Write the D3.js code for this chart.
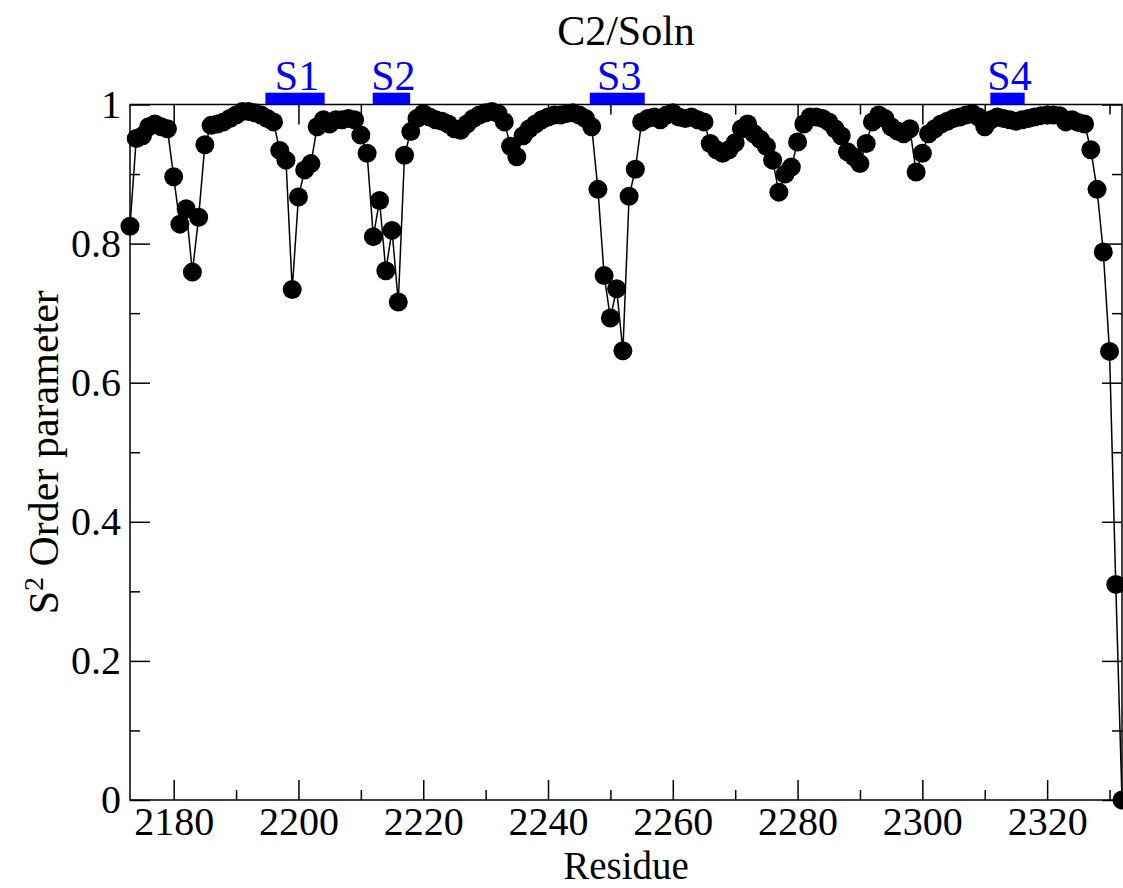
<!DOCTYPE html>
<html>
<head>
<meta charset="utf-8">
<script src="https://cdn.jsdelivr.net/npm/d3@7/dist/d3.min.js"></script>
<style>
  html, body { margin: 0; padding: 0; background: #fff; }
  svg { display: block; }
  text { font-family: "Liberation Serif", "Times New Roman", serif; }
</style>
</head>
<body>
<svg id="chart" width="1123" height="888"></svg>
<script>
// Residue numbers and S2 order parameters (C2 domain, solution)
const residueStart = 2173;
const orderParams = [
  0.825, 0.951, 0.955, 0.968, 0.972, 0.968, 0.965, 0.896, 0.828, 0.850, // 2173-2182
  0.759, 0.838, 0.942, 0.970, 0.972, 0.975, 0.980, 0.985, 0.990, 0.990, // 2183-2192
  0.988, 0.985, 0.980, 0.975, 0.934, 0.920, 0.734, 0.867, 0.906, 0.915, // 2193-2202
  0.968, 0.978, 0.972, 0.978, 0.978, 0.980, 0.978, 0.956, 0.930, 0.810, // 2203-2212
  0.862, 0.761, 0.819, 0.716, 0.927, 0.961, 0.980, 0.987, 0.982, 0.978, // 2213-2222
  0.976, 0.972, 0.965, 0.963, 0.972, 0.980, 0.985, 0.988, 0.990, 0.987, // 2223-2232
  0.975, 0.940, 0.925, 0.955, 0.965, 0.972, 0.978, 0.982, 0.985, 0.985, // 2233-2242
  0.987, 0.988, 0.985, 0.980, 0.968, 0.878, 0.754, 0.693, 0.735, 0.646, // 2243-2252
  0.868, 0.907, 0.975, 0.980, 0.982, 0.978, 0.985, 0.988, 0.982, 0.980, // 2253-2262
  0.982, 0.978, 0.975, 0.944, 0.935, 0.930, 0.935, 0.945, 0.965, 0.972, // 2263-2272
  0.958, 0.950, 0.940, 0.920, 0.874, 0.900, 0.910, 0.946, 0.972, 0.982, // 2273-2282
  0.982, 0.980, 0.975, 0.965, 0.955, 0.932, 0.925, 0.915, 0.944, 0.975, // 2283-2292
  0.985, 0.980, 0.968, 0.962, 0.958, 0.965, 0.903, 0.930, 0.958, 0.965, // 2293-2302
  0.972, 0.976, 0.980, 0.982, 0.985, 0.987, 0.982, 0.968, 0.978, 0.982, // 2303-2312
  0.980, 0.978, 0.976, 0.978, 0.980, 0.982, 0.984, 0.985, 0.985, 0.984, // 2313-2322
  0.975, 0.978, 0.974, 0.972, 0.935, 0.878, 0.788, 0.645, 0.310, 0.000  // 2323-2332
];
const residues = orderParams.map((_, i) => residueStart + i);

// Strand markers along the top edge
const strandNames = ["S1", "S2", "S3", "S4"];
const strandStart = [2194.7, 2211.9, 2246.7, 2310.9];
const strandEnd   = [2204.2, 2217.9, 2255.5, 2316.4];

// Axis ticks
const xMajorTicks = [2180, 2200, 2220, 2240, 2260, 2280, 2300, 2320];
const xMinorTicks = [2190, 2210, 2230, 2250, 2270, 2290, 2310, 2330];
const yMajorTicks = [0, 0.2, 0.4, 0.6, 0.8, 1];
const yMinorTicks = [0.1, 0.3, 0.5, 0.7, 0.9];

const titleText = "C2/Soln";
const xLabelText = "Residue";

const svg = d3.select("#chart");
const plotLeft = 130, plotRight = 1122, plotTop = 104.5, plotBottom = 800;

const x = d3.scaleLinear().domain([2173, 2332]).range([plotLeft, plotRight]);
const y = d3.scaleLinear().domain([0, 1]).range([plotBottom, plotTop]);

const fontSize = 42;
const tickFontSize = 40;

// Frame
svg.append("rect")
  .attr("x", plotLeft).attr("y", plotTop)
  .attr("width", plotRight - plotLeft).attr("height", plotBottom - plotTop)
  .attr("fill", "none").attr("stroke", "#000").attr("stroke-width", 1.5);

function styleAxis(g) {
  g.select(".domain").remove();
  g.selectAll(".tick line").attr("stroke", "#000").attr("stroke-width", 1.5);
  g.selectAll(".tick text")
    .attr("fill", "#000")
    .style("font-family", '"Liberation Serif", "Times New Roman", serif')
    .style("font-size", tickFontSize + "px");
}

// Bottom axis (major with labels, minor without), ticks pointing inward
svg.append("g").attr("transform", `translate(0,${plotBottom})`)
  .call(d3.axisBottom(x).tickValues(xMajorTicks).tickSize(-20).tickPadding(7).tickFormat(d3.format("d")))
  .call(styleAxis);
svg.append("g").attr("transform", `translate(0,${plotBottom})`)
  .call(d3.axisBottom(x).tickValues(xMinorTicks).tickSize(-10).tickFormat(""))
  .call(styleAxis);
// Top mirror ticks
svg.append("g").attr("transform", `translate(0,${plotTop})`)
  .call(d3.axisTop(x).tickValues(xMajorTicks).tickSize(-20).tickFormat(""))
  .call(styleAxis);
svg.append("g").attr("transform", `translate(0,${plotTop})`)
  .call(d3.axisTop(x).tickValues(xMinorTicks).tickSize(-10).tickFormat(""))
  .call(styleAxis);

// Left axis
svg.append("g").attr("transform", `translate(${plotLeft},0)`)
  .call(d3.axisLeft(y).tickValues(yMajorTicks).tickSize(-20).tickPadding(9).tickFormat(d3.format("")))
  .call(styleAxis);
svg.append("g").attr("transform", `translate(${plotLeft},0)`)
  .call(d3.axisLeft(y).tickValues(yMinorTicks).tickSize(-10).tickFormat(""))
  .call(styleAxis);
// Right mirror ticks
svg.append("g").attr("transform", `translate(${plotRight},0)`)
  .call(d3.axisRight(y).tickValues(yMajorTicks).tickSize(-20).tickFormat(""))
  .call(styleAxis);
svg.append("g").attr("transform", `translate(${plotRight},0)`)
  .call(d3.axisRight(y).tickValues(yMinorTicks).tickSize(-10).tickFormat(""))
  .call(styleAxis);

// Data line and markers
const points = residues.map((r, i) => ({ r, v: orderParams[i] }));
const line = d3.line().x(d => x(d.r)).y(d => y(d.v));

svg.append("path")
  .datum(points)
  .attr("d", line)
  .attr("fill", "none")
  .attr("stroke", "#000")
  .attr("stroke-width", 1.5);

svg.append("g").selectAll("circle")
  .data(points)
  .join("circle")
  .attr("cx", d => x(d.r))
  .attr("cy", d => y(d.v))
  .attr("r", 9.5)
  .attr("fill", "#000");

// Strand bars and labels above the frame
const strands = strandNames.map((name, i) => ({ name, s: strandStart[i], e: strandEnd[i] }));
const sg = svg.append("g");
sg.selectAll("rect")
  .data(strands)
  .join("rect")
  .attr("x", d => x(d.s))
  .attr("y", plotTop - 11.8)
  .attr("width", d => x(d.e) - x(d.s))
  .attr("height", 11.8)
  .attr("fill", "#0000ff");
sg.selectAll("text")
  .data(strands)
  .join("text")
  .attr("x", d => (x(d.s) + x(d.e)) / 2 + 2)
  .attr("y", 90)
  .attr("text-anchor", "middle")
  .attr("fill", "#0000ff")
  .style("font-size", fontSize + "px")
  .text(d => d.name);

// Title
svg.append("text")
  .attr("x", (plotLeft + plotRight) / 2)
  .attr("y", 45)
  .attr("text-anchor", "middle")
  .style("font-size", fontSize + "px")
  .text(titleText);

// X axis label
svg.append("text")
  .attr("x", (plotLeft + plotRight) / 2)
  .attr("y", 879)
  .attr("text-anchor", "middle")
  .style("font-size", "39px")
  .text(xLabelText);

// Y axis label with superscript
const yl = svg.append("text")
  .attr("transform", `translate(58,${(plotTop + plotBottom) / 2}) rotate(-90)`)
  .attr("text-anchor", "middle")
  .style("font-size", fontSize + "px");
yl.append("tspan").text("S");
yl.append("tspan").attr("dy", -15).style("font-size", "28px").text("2");
yl.append("tspan").attr("dy", 15).text(" Order parameter");
</script>
</body>
</html>
